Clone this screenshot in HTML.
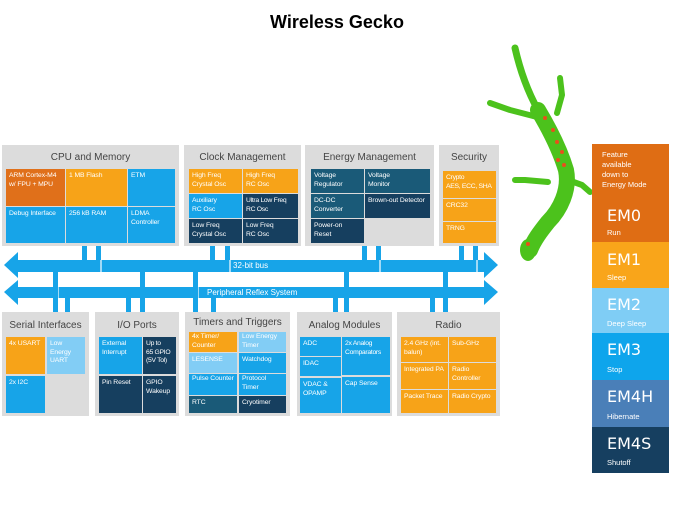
<!DOCTYPE html>
<html><head><meta charset="utf-8"><style>
*{margin:0;padding:0;box-sizing:border-box}
body{width:674px;height:506px;background:#fff;position:relative;overflow:hidden;font-family:"Liberation Sans",sans-serif}
.a{position:absolute}
.p{position:absolute;background:#dcdcdc}
.t{position:absolute;left:0;right:0;text-align:center;font-size:10px;color:#444;top:7px}
.c{position:absolute;color:#fff;font-size:6.8px;line-height:8.5px;padding:3px 3px;letter-spacing:-0.1px}
.o{background:#f7a318}.do{background:#e0701a}.b{background:#17a4e8}.lb{background:#82cdf5}.n{background:#163f5f}.tl{background:#1a5a78}
.v{position:absolute;background:#17a4e8;width:5px}
.em{position:absolute;left:592px;width:77px;color:#fff}
.em .big{font-size:16px;position:absolute;left:15px;font-family:"DejaVu Sans",sans-serif}
.em .sm{font-size:7.5px;position:absolute;left:15px}
</style></head><body>
<div class="a" style="left:0;right:0;top:12px;text-align:center;font-size:18px;font-weight:bold;color:#000">Wireless Gecko</div>

<!-- gecko -->
<svg class="a" style="left:0;top:0" width="674" height="506">
<g fill="none" stroke="#4cc21c" stroke-linecap="round" stroke-linejoin="round">
<path d="M515 48 C520 70 528 92 538 110" stroke-width="7"/>
<path d="M538 110 C550 130 560 150 566 170 C570 190 560 210 548 222 C540 232 534 240 530 250" stroke-width="16"/>
<path d="M537 117 L510 110 L490 103" stroke-width="6"/>
<path d="M557 113 L562 95 L560 78" stroke-width="6"/>
<path d="M548 182 L525 180 L515 180" stroke-width="6"/>
<path d="M568 180 L582 185 L590 192" stroke-width="6"/>
</g>
<ellipse cx="528" cy="250" rx="8" ry="11" fill="#4cc21c"/>
<g fill="#e8501c"><circle cx="545" cy="118" r="2"/><circle cx="553" cy="130" r="2"/><circle cx="557" cy="142" r="2"/><circle cx="562" cy="152" r="2"/><circle cx="558" cy="160" r="2"/><circle cx="564" cy="165" r="2"/><circle cx="528" cy="244" r="2"/></g>
</svg>

<!-- top panels -->
<div class="p" style="left:2px;top:145px;width:177px;height:101px"><div class="t">CPU and Memory</div></div>
<div class="c do" style="left:6px;top:169px;width:59px;height:37px">ARM Cortex-M4 w/ FPU + MPU</div>
<div class="c o" style="left:66px;top:169px;width:61px;height:37px">1 MB Flash</div>
<div class="c b" style="left:128px;top:169px;width:47px;height:37px">ETM</div>
<div class="c b" style="left:6px;top:207px;width:59px;height:36px">Debug Interface</div>
<div class="c b" style="left:66px;top:207px;width:61px;height:36px">256 kB RAM</div>
<div class="c b" style="left:128px;top:207px;width:47px;height:36px">LDMA Controller</div>

<div class="p" style="left:184px;top:145px;width:117px;height:101px"><div class="t">Clock Management</div></div>
<div class="c o" style="left:189px;top:169px;width:53px;height:24px">High Freq Crystal Osc</div>
<div class="c o" style="left:243px;top:169px;width:55px;height:24px">High Freq<br>RC Osc</div>
<div class="c b" style="left:189px;top:194px;width:53px;height:24px">Auxiliary<br>RC Osc</div>
<div class="c n" style="left:243px;top:194px;width:55px;height:24px;letter-spacing:-0.3px">Ultra Low Freq RC Osc</div>
<div class="c n" style="left:189px;top:219px;width:53px;height:24px">Low Freq Crystal Osc</div>
<div class="c n" style="left:243px;top:219px;width:55px;height:24px">Low Freq<br>RC Osc</div>

<div class="p" style="left:305px;top:145px;width:129px;height:101px"><div class="t">Energy Management</div></div>
<div class="c tl" style="left:311px;top:169px;width:53px;height:24px">Voltage Regulator</div>
<div class="c tl" style="left:365px;top:169px;width:65px;height:24px">Voltage<br>Monitor</div>
<div class="c tl" style="left:311px;top:194px;width:53px;height:24px">DC-DC Converter</div>
<div class="c n" style="left:365px;top:194px;width:65px;height:24px">Brown-out Detector</div>
<div class="c n" style="left:311px;top:219px;width:53px;height:24px">Power-on Reset</div>

<div class="p" style="left:439px;top:145px;width:60px;height:101px"><div class="t">Security</div></div>
<div class="c o" style="left:443px;top:171px;width:53px;height:27px;letter-spacing:-0.3px">Crypto<br>AES, ECC, SHA</div>
<div class="c o" style="left:443px;top:199px;width:53px;height:22px">CRC32</div>
<div class="c o" style="left:443px;top:222px;width:53px;height:21px">TRNG</div>

<!-- verticals top -->
<div class="v" style="left:82px;top:246px;height:26px"></div>
<div class="v" style="left:96px;top:246px;height:26px"></div>
<div class="v" style="left:210px;top:246px;height:26px"></div>
<div class="v" style="left:225px;top:246px;height:26px"></div>
<div class="v" style="left:362px;top:246px;height:26px"></div>
<div class="v" style="left:376px;top:246px;height:26px"></div>
<div class="v" style="left:459px;top:246px;height:26px"></div>
<div class="v" style="left:473px;top:246px;height:26px"></div>

<!-- buses -->
<svg class="a" style="left:0;top:0" width="674" height="506">
<polygon fill="#17a4e8" points="4,265 18,252 18,260 484,260 484,252 498,265 484,278 484,272 18,272 18,278"/>
<polygon fill="#17a4e8" points="4,292 18,280 18,287 484,287 484,280 498,292 484,305 484,298 18,298 18,305"/>
<g stroke="#fff" stroke-width="1.2"><line x1="101" y1="260" x2="101" y2="272"/><line x1="230" y1="260" x2="230" y2="272"/><line x1="380" y1="260" x2="380" y2="272"/><line x1="477" y1="260" x2="477" y2="272"/>
<line x1="58" y1="287" x2="58" y2="298"/><line x1="144" y1="287" x2="144" y2="298"/><line x1="198" y1="287" x2="198" y2="298"/><line x1="348" y1="287" x2="348" y2="298"/><line x1="447" y1="287" x2="447" y2="298"/></g>
</svg>
<div class="a" style="left:233px;top:261px;font-size:8px;color:#fff">32-bit bus</div>
<div class="a" style="left:207px;top:288px;font-size:8px;color:#fff">Peripheral Reflex System</div>

<!-- verticals bottom -->
<div class="v" style="left:53px;top:272px;height:40px"></div>
<div class="v" style="left:65px;top:298px;height:14px"></div>
<div class="v" style="left:126px;top:298px;height:14px"></div>
<div class="v" style="left:140px;top:272px;height:40px"></div>
<div class="v" style="left:193px;top:272px;height:40px"></div>
<div class="v" style="left:211px;top:298px;height:14px"></div>
<div class="v" style="left:333px;top:298px;height:14px"></div>
<div class="v" style="left:344px;top:272px;height:40px"></div>
<div class="v" style="left:430px;top:298px;height:14px"></div>
<div class="v" style="left:443px;top:272px;height:40px"></div>

<!-- bottom panels -->
<div class="p" style="left:2px;top:312px;width:87px;height:104px"><div class="t" style="top:8px">Serial Interfaces</div></div>
<div class="c o" style="left:6px;top:337px;width:39px;height:37px">4x USART</div>
<div class="c lb" style="left:47px;top:337px;width:38px;height:37px">Low<br>Energy<br>UART</div>
<div class="c b" style="left:6px;top:376px;width:39px;height:37px">2x I2C</div>

<div class="p" style="left:95px;top:312px;width:84px;height:104px"><div class="t" style="top:8px">I/O Ports</div></div>
<div class="c b" style="left:99px;top:337px;width:43px;height:37px">External Interrupt</div>
<div class="c n" style="left:143px;top:337px;width:33px;height:37px;letter-spacing:-0.3px">Up to<br>65 GPIO<br>(5V Tol)</div>
<div class="c n" style="left:99px;top:376px;width:43px;height:37px">Pin Reset</div>
<div class="c n" style="left:143px;top:376px;width:33px;height:37px">GPIO Wakeup</div>

<div class="p" style="left:185px;top:312px;width:105px;height:104px"><div class="t" style="top:5px">Timers and Triggers</div></div>
<div class="c o" style="left:189px;top:332px;width:48px;height:20px;padding-top:1px">4x Timer/ Counter</div>
<div class="c lb" style="left:239px;top:332px;width:47px;height:20px;padding-top:1px">Low Energy Timer</div>
<div class="c lb" style="left:189px;top:353px;width:48px;height:20px">LESENSE</div>
<div class="c b" style="left:239px;top:353px;width:47px;height:20px">Watchdog</div>
<div class="c b" style="left:189px;top:374px;width:48px;height:21px;padding-top:1px">Pulse Counter</div>
<div class="c b" style="left:239px;top:374px;width:47px;height:21px;padding-top:1px">Protocol Timer</div>
<div class="c tl" style="left:189px;top:396px;width:48px;height:17px">RTC</div>
<div class="c n" style="left:239px;top:396px;width:47px;height:17px">Cryotimer</div>

<div class="p" style="left:297px;top:312px;width:95px;height:104px"><div class="t" style="top:8px">Analog Modules</div></div>
<div class="c b" style="left:300px;top:337px;width:41px;height:19px">ADC</div>
<div class="c b" style="left:300px;top:357px;width:41px;height:19px">IDAC</div>
<div class="c b" style="left:300px;top:378px;width:41px;height:35px">VDAC &amp; OPAMP</div>
<div class="c b" style="left:342px;top:337px;width:48px;height:38px;letter-spacing:-0.3px">2x Analog Comparators</div>
<div class="c b" style="left:342px;top:377px;width:48px;height:36px">Cap Sense</div>

<div class="p" style="left:397px;top:312px;width:103px;height:104px"><div class="t" style="top:8px">Radio</div></div>
<div class="c o" style="left:401px;top:337px;width:47px;height:25px">2.4 GHz (int. balun)</div>
<div class="c o" style="left:449px;top:337px;width:47px;height:25px">Sub-GHz</div>
<div class="c o" style="left:401px;top:363px;width:47px;height:26px">Integrated PA</div>
<div class="c o" style="left:449px;top:363px;width:47px;height:26px">Radio Controller</div>
<div class="c o" style="left:401px;top:390px;width:47px;height:23px">Packet Trace</div>
<div class="c o" style="left:449px;top:390px;width:47px;height:23px">Radio Crypto</div>

<!-- energy modes -->
<div class="em" style="top:144px;height:98px;background:#df6d14">
<div class="sm" style="top:6px;left:10px;font-size:7.5px;line-height:10px">Feature<br>available<br>down to<br>Energy Mode</div>
<div class="big" style="top:62px">EM0</div><div class="sm" style="top:84px">Run</div></div>
<div class="em" style="top:242px;height:46px;background:#f9a51a"><div class="big" style="top:8px">EM1</div><div class="sm" style="top:31px">Sleep</div></div>
<div class="em" style="top:288px;height:45px;background:#7fcdf5"><div class="big" style="top:7px">EM2</div><div class="sm" style="top:31px">Deep Sleep</div></div>
<div class="em" style="top:333px;height:47px;background:#0ea5ec"><div class="big" style="top:7px">EM3</div><div class="sm" style="top:32px">Stop</div></div>
<div class="em" style="top:380px;height:47px;background:#4a7fb8"><div class="big" style="top:7px">EM4H</div><div class="sm" style="top:32px">Hibernate</div></div>
<div class="em" style="top:427px;height:46px;background:#163f60"><div class="big" style="top:7px">EM4S</div><div class="sm" style="top:31px">Shutoff</div></div>
</body></html>
